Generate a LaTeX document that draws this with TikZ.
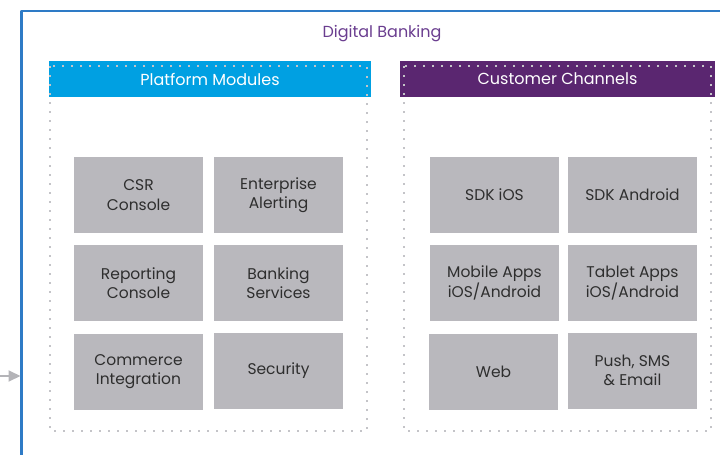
\documentclass[tikz,border=0pt]{standalone}
\usepackage{fontspec}
\setmainfont{Poppins}
\usetikzlibrary{positioning,arrows.meta}
\definecolor{frameblue}{HTML}{2E7BC6}
\definecolor{platblue}{HTML}{00A0E2}
\definecolor{chanpurple}{HTML}{5A2670}
\definecolor{titlepurple}{HTML}{6A3D8F}
\definecolor{boxgray}{HTML}{B9B8BD}
\definecolor{boxtext}{HTML}{2E2E2E}
\definecolor{dotgray}{HTML}{C4C4C8}
\definecolor{arrowgray}{HTML}{B4B4B8}

\begin{document}
\begin{tikzpicture}[x=1pt,y=-1pt, line join=round,
  module/.style={fill=boxgray,minimum width=129pt,minimum height=76pt,inner sep=0pt,align=center,text=boxtext,font=\fontsize{15.5}{19.5}\selectfont},
  header/.style={minimum height=36pt,inner sep=0pt,text=white,font=\fontsize{16}{19}\selectfont},
  dotbox/.style={draw=dotgray,line width=1.6pt,dash pattern=on 1.6pt off 7.4pt}]
\useasboundingbox (0,0) rectangle (720,455);
\clip (0,0) rectangle (720,455);
\draw[frameblue,line width=2.5pt] (21.5,470)--(21.5,11)--(730,11);
\node[text=titlepurple,font=\fontsize{16}{19}\selectfont] (title) at (382,33.5) {Digital Banking};
\node[header,fill=platblue,minimum width=322pt] (plat) at (210,79) {Platform Modules};
\node[header,fill=chanpurple,minimum width=315pt] (chan) at (557.5,79) {Customer Channels};
\draw[dotbox] (50,66) rectangle (367,431);
\draw[dotbox] (404,66) rectangle (711,431);
\node[module] (csr) at (138.5,195) {CSR\\Console};
\node[module] (alert) at (278.5,195) {Enterprise\\Alerting};
\node[module] (report) at (138.5,283) {Reporting\\Console};
\node[module] (bank) at (278.5,283) {Banking\\Services};
\node[module] (commerce) at (138.5,371.5) {Commerce\\Integration};
\node[module] (security) at (278.5,370.5) {Security};
\node[module] (ios) at (494.5,195) {SDK iOS};
\node[module] (android) at (632.5,195) {SDK Android};
\node[module] (mobile) at (494.5,283) {Mobile Apps\\iOS/Android};
\node[module] (tablet) at (632.5,283) {Tablet Apps\\iOS/Android};
\node[module] (web) at (493.5,371.5) {Web};
\node[module] (push) at (632.5,370.5) {Push, SMS\\\& Email};
\coordinate (feed) at (0,376);
\coordinate (entry) at (20.5,376);
\draw[arrowgray,line width=2pt,-{Triangle[length=12pt,width=11pt]}] (feed)--(entry);
\end{tikzpicture}
\end{document}
